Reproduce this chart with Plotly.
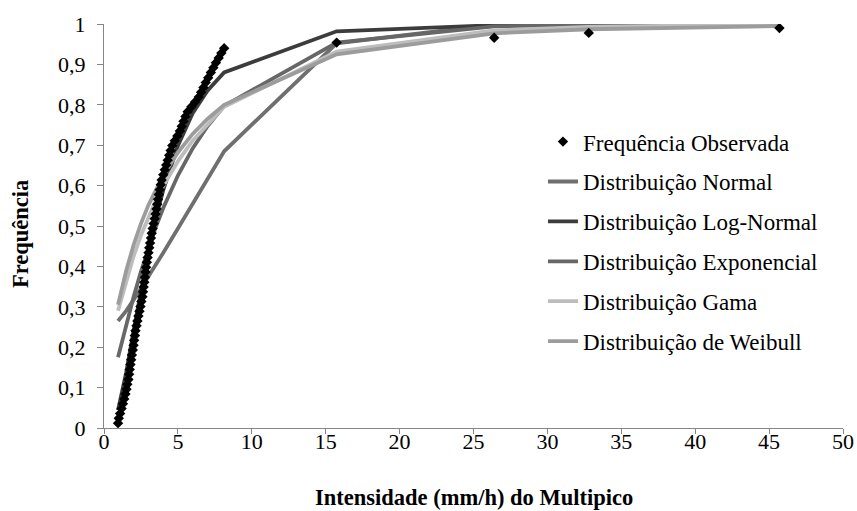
import plotly.graph_objects as go

# Observed cumulative frequency (plotting positions) vs intensity
obs_x = [0.95, 1.00, 1.09, 1.19, 1.28, 1.37, 1.45, 1.52, 1.58, 1.65,
         1.70, 1.74, 1.79, 1.84, 1.89, 1.95, 2.00, 2.04, 2.09, 2.13,
         2.20, 2.26, 2.33, 2.40, 2.47, 2.53, 2.60, 2.64, 2.68, 2.73,
         2.77, 2.81, 2.85, 2.90, 2.95, 3.01, 3.06, 3.12, 3.18, 3.23,
         3.29, 3.36, 3.43, 3.49, 3.55, 3.60, 3.65, 3.71, 3.77, 3.84,
         3.90, 4.01, 4.11, 4.21, 4.31, 4.41, 4.51, 4.62, 4.79, 4.96,
         5.13, 5.26, 5.38, 5.51, 5.66, 5.91, 6.16, 6.41, 6.57, 6.73,
         6.88, 7.05, 7.23, 7.40, 7.57, 7.76, 7.94, 8.13,
         15.74, 26.40, 32.80, 45.70]
obs_y = [0.012, 0.024, 0.036, 0.048, 0.060, 0.072, 0.084, 0.096, 0.108, 0.120,
         0.133, 0.145, 0.157, 0.169, 0.181, 0.193, 0.205, 0.217, 0.229, 0.241,
         0.253, 0.265, 0.277, 0.289, 0.301, 0.313, 0.325, 0.337, 0.349, 0.361,
         0.373, 0.386, 0.398, 0.410, 0.422, 0.434, 0.446, 0.458, 0.470, 0.482,
         0.494, 0.506, 0.518, 0.530, 0.542, 0.554, 0.566, 0.578, 0.590, 0.602,
         0.614, 0.627, 0.639, 0.651, 0.663, 0.675, 0.687, 0.699, 0.711, 0.723,
         0.735, 0.747, 0.759, 0.771, 0.783, 0.795, 0.807, 0.819, 0.831, 0.843,
         0.855, 0.867, 0.880, 0.892, 0.904, 0.916, 0.928, 0.940,
         0.954, 0.966, 0.978, 0.990]

# Fitted distributions, read at selected intensities
fit_x = [0.95, 1.5, 2.0, 2.5, 3.0, 3.5, 4.0, 5.0, 6.0, 7.0, 8.13, 15.74, 26.4, 32.8, 45.7]
normal_y = [0.265, 0.290, 0.317, 0.345, 0.373, 0.403, 0.433, 0.494, 0.555, 0.615, 0.685, 0.952, 0.999, 1.000, 1.000]
lognormal_y = [0.044, 0.137, 0.240, 0.342, 0.436, 0.518, 0.588, 0.699, 0.779, 0.835, 0.880, 0.982, 0.997, 0.999, 1.000]
exponential_y = [0.175, 0.255, 0.324, 0.387, 0.445, 0.497, 0.544, 0.625, 0.692, 0.747, 0.797, 0.954, 0.994, 0.998, 1.000]
gama_y = [0.290, 0.363, 0.425, 0.477, 0.523, 0.563, 0.599, 0.660, 0.711, 0.752, 0.795, 0.932, 0.984, 0.993, 0.999]
weibull_y = [0.305, 0.389, 0.453, 0.506, 0.551, 0.590, 0.625, 0.682, 0.728, 0.765, 0.800, 0.925, 0.977, 0.987, 0.995]

series = [
    ("Distribuição Normal", normal_y, "#6f6f6f"),
    ("Distribuição Log-Normal", lognormal_y, "#3c3c3c"),
    ("Distribuição Exponencial", exponential_y, "#676767"),
    ("Distribuição Gama", gama_y, "#bdbdbd"),
    ("Distribuição de Weibull", weibull_y, "#9c9c9c"),
]

y_ticks = [0, 0.1, 0.2, 0.3, 0.4, 0.5, 0.6, 0.7, 0.8, 0.9, 1]
y_tick_text = ["0", "0,1", "0,2", "0,3", "0,4", "0,5", "0,6", "0,7", "0,8", "0,9", "1"]
x_ticks = [0, 5, 10, 15, 20, 25, 30, 35, 40, 45, 50]

FONT = "'Liberation Serif', 'Times New Roman', serif"

fig = go.Figure()
for i, (name, ys, col) in enumerate(series):
    fig.add_trace(go.Scatter(x=fit_x, y=ys, mode="lines", name=name,
                             line=dict(color=col, width=3.8),
                             legendgroup=f"g{i+1}", legendrank=i + 2))
fig.add_trace(go.Scatter(x=obs_x, y=obs_y, mode="markers", name="Frequência Observada",
                         marker=dict(symbol="diamond", size=8, color="black"),
                         legendgroup="g0", legendrank=1))

fig.update_layout(
    width=857, height=511,
    margin=dict(l=104, r=14, t=24, b=83, autoexpand=False),
    paper_bgcolor="white", plot_bgcolor="white",
    font=dict(family=FONT, size=22, color="black"),
    showlegend=True,
    legend=dict(x=0.594, y=0.762, xanchor="left", yanchor="top",
                bgcolor="rgba(0,0,0,0)", font=dict(family=FONT, size=23),
                tracegroupgap=7),
    xaxis=dict(range=[0, 50], tickvals=x_ticks, showgrid=False, zeroline=False,
               showline=True, linecolor="#868686", linewidth=1, automargin=False,
               ticks="outside", ticklen=5, tickcolor="#868686",
               ticklabelstandoff=-11,
               tickfont=dict(family=FONT, size=22)),
    yaxis=dict(range=[0, 1], tickvals=y_ticks, ticktext=y_tick_text, showgrid=False,
               zeroline=False, showline=True, linecolor="#868686", linewidth=1,
               automargin=False,
               ticks="outside", ticklen=6, tickcolor="#868686",
               ticklabelstandoff=7, tickfont=dict(family=FONT, size=22)),
    annotations=[
        dict(text="<b>Intensidade (mm/h) do Multipico</b>", xref="paper", yref="paper",
             x=0.5, y=0, yshift=-69, xanchor="center", yanchor="middle",
             showarrow=False, font=dict(family=FONT, size=22.5)),
        dict(text="<b>Frequência</b>", xref="paper", yref="paper",
             x=0, y=0.48, xshift=-84, xanchor="center", yanchor="middle",
             textangle=-90, showarrow=False, font=dict(family=FONT, size=22.5)),
    ],
)

fig.write_html("out.html")
